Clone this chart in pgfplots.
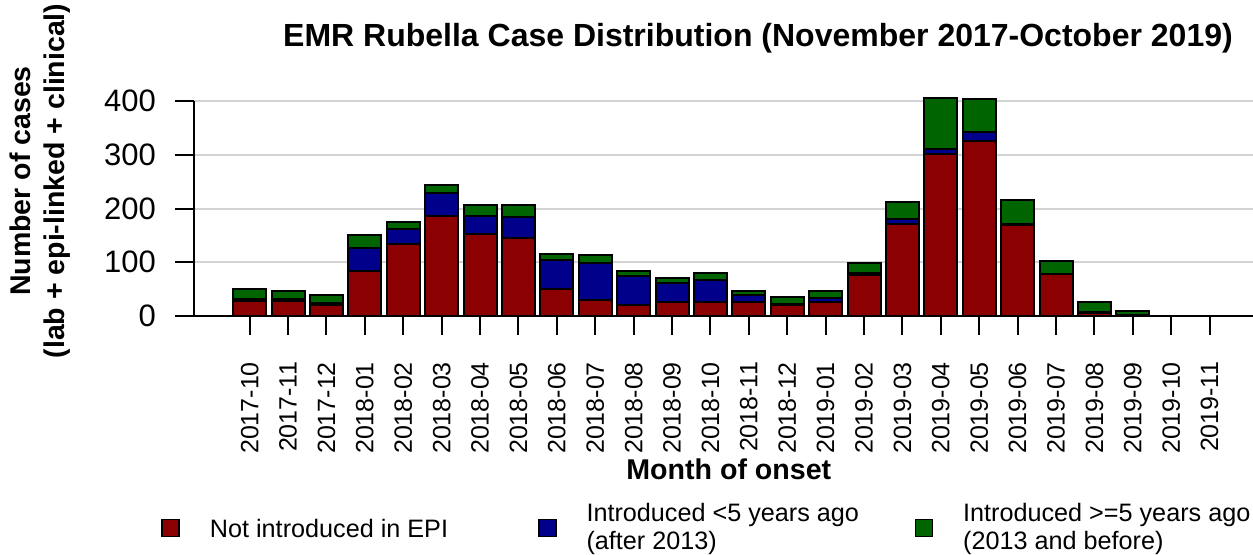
\documentclass[border=0pt]{standalone}
\usepackage{fontspec}
\setmainfont{Liberation Sans}
\usepackage{pgfplots}
\usepackage{pgfplotstable}
\pgfplotsset{compat=1.18}

\definecolor{notintro}{HTML}{8B0000}
\definecolor{introrecent}{HTML}{00008B}
\definecolor{introold}{HTML}{006400}
\definecolor{gridgray}{HTML}{D3D3D3}

% cases per month of onset, stacked: not in EPI / <5 yrs / >=5 yrs
\pgfplotstableread{
x  red  blue green
0  28   4    18
1  28   4    15
2  20   4    15
3  84   43   24
4  134  28   12
5  186  42   15
6  153  33   21
7  145  39   23
8  50   54   12
9  30   69   15
10 21   53   10
11 26   36   9
12 26   41   13
13 26   13   7
14 20   2    13
15 26   7    13
16 77   3    18
17 172  9    32
18 302  8    95
19 326  17   60
20 169  2    45
21 79   0    24
22 6    2    18
23 1    0    8
24 0    0    0
25 0    0    0
}\rubella

\begin{document}
\begin{tikzpicture}
\useasboundingbox (-97pt,-119pt) rectangle (529.5pt,158pt);
\begin{axis}[
    scale only axis,
    width=529.5pt,
    height=107.5pt,
    xmin=-1.45, xmax=26.13,
    ymin=0, ymax=400,
    clip=false,
    ybar stacked,
    bar width=0.86,
    axis lines*=left,
    axis line style={line width=1pt},
    tick align=outside,
    major tick length=9.5pt,
    tick style={black, line width=1pt},
    ytick={0,100,200,300,400},
    ymajorgrids,
    grid style={gridgray, line width=1pt},
    xtick={0,...,25},
    xticklabels={2017-10,2017-11,2017-12,2018-01,2018-02,2018-03,2018-04,2018-05,2018-06,2018-07,2018-08,2018-09,2018-10,2018-11,2018-12,2019-01,2019-02,2019-03,2019-04,2019-05,2019-06,2019-07,2019-08,2019-09,2019-10,2019-11},
    xticklabel style={rotate=90, anchor=east, font=\fontsize{12.5}{15}\selectfont},
    xticklabel shift=10pt,
    yticklabel style={font=\fontsize{15.5}{18}\selectfont},
    yticklabel shift=6pt,
    /pgf/number format/assume math mode=true,
    title={EMR Rubella Case Distribution (November 2017-October 2019)},
    title style={font=\bfseries\fontsize{16}{19}\selectfont, at={(axis description cs:0.5326,1.237)}, anchor=center},
    xlabel={Month of onset},
    xlabel style={font=\bfseries\fontsize{14.3}{17}\selectfont, at={(axis description cs:0.505,-0.712)}, anchor=center},
    ylabel={Number of cases\\(lab + epi-linked + clinical)},
    ylabel style={font=\bfseries\fontsize{14.25}{17}\selectfont, align=center, at={(axis description cs:-0.1454,0.628)}, anchor=center},
    legend columns=3,
    legend cell align=left,
    legend style={at={(axis description cs:-0.0312,-0.986)}, anchor=west, draw=none, fill=none, inner sep=0pt,
        nodes={inner sep=0pt},
        /tikz/every odd column/.style={column sep=15pt},
        /tikz/every even column/.style={column sep=0pt},
        font=\fontsize{12.6}{14}\selectfont},
    legend image code/.code={\draw[#1, draw=black, line width=0.8pt] (0pt,-4.25pt) rectangle (8.5pt,4.25pt);},
]
\addplot[fill=notintro, draw=black, line width=1pt] table[x=x, y=red] {\rubella};
\addplot[fill=introrecent, draw=black, line width=1pt] table[x=x, y=blue] {\rubella};
\addplot[fill=introold, draw=black, line width=1pt] table[x=x, y=green] {\rubella};
\legend{\parbox[c]{164pt}{Not introduced in EPI},
        \raisebox{7pt}{\parbox[c]{164pt}{Introduced <5 years ago\\(after 2013)}},
        \raisebox{7pt}{\parbox[c]{150pt}{Introduced >=5 years ago\\(2013 and before)}}}
\end{axis}
\end{tikzpicture}
\end{document}
